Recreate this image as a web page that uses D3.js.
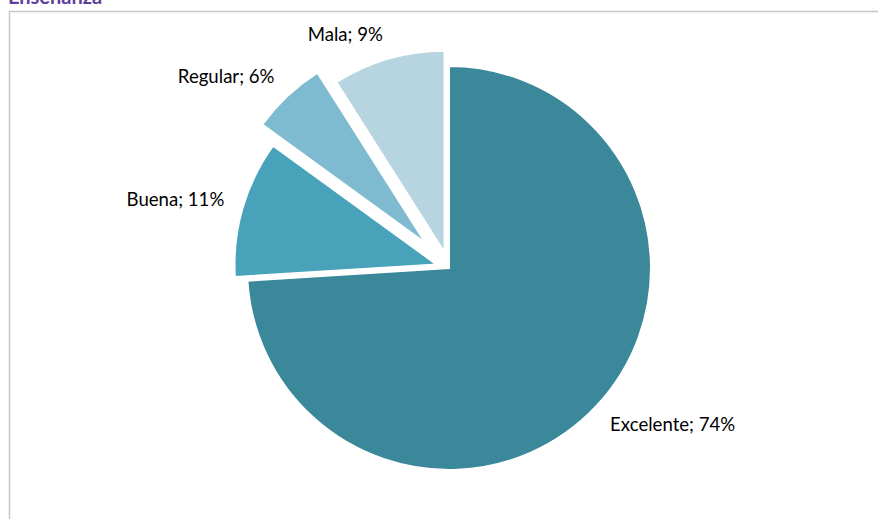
<!DOCTYPE html>
<html><head><meta charset="utf-8">
<script src="https://cdn.jsdelivr.net/npm/d3@7/dist/d3.min.js"></script>
<style>html,body{margin:0;padding:0;background:#fff;overflow:hidden}</style>
</head><body>
<svg id="c" width="878" height="519"></svg>
<script>
const categories = ["Excelente", "Buena", "Regular", "Mala"];
const values = [74, 11, 6, 9];
const labels = ["Excelente; 74%", "Buena; 11%", "Regular; 6%", "Mala; 9%"];
const colors = ["#3A889A", "#48A3BA", "#7EBBD0", "#B7D5E0"];
const explode = [0, 13, 34, 16];
const title = "Enseñanza";

const svg = d3.select("#c");
const W = 878, H = 519;
const cx = 449, cy = 268, R = 202;

// frame
svg.append("path").attr("d", `M9.5,${H} V11.5 H${W}`)
  .attr("fill", "none").attr("stroke", "#c8c8c8").attr("stroke-width", 1.5);

// title (partially clipped at top, as in the reference)
svg.append("text").attr("x", 8).attr("y", 4)
  .attr("font-family", "Lato, 'Open Sans', sans-serif").attr("font-weight", "bold")
  .attr("font-size", 20).attr("fill", "#5F3E9A").text(title);

const data = categories.map((c, i) => ({ c, v: values[i], label: labels[i], color: colors[i], ex: explode[i] }));
const pie = d3.pie().sort(null).value(d => d.v);
const arcs = pie(data);
const arc = d3.arc().innerRadius(0).outerRadius(R);

const g = svg.append("g").attr("transform", `translate(${cx},${cy})`);

arcs.forEach(a => {
  const mid = (a.startAngle + a.endAngle) / 2;
  const s = Math.sin(mid), c = Math.cos(mid);
  const ox = s * a.data.ex, oy = -c * a.data.ex;
  g.append("path").attr("d", arc(a)).attr("transform", `translate(${ox},${oy})`)
    .attr("fill", a.data.color).attr("stroke", "#fff").attr("stroke-width", 2)
    .attr("stroke-linejoin", "miter");
  const lr = R + 12;
  const px = ox + s * lr + 7 * s;
  const py = oy - c * lr;
  const base = c < 0 ? py + 17 : py + 4 - 11 * c;
  g.append("text").attr("x", px).attr("y", base)
    .attr("text-anchor", s < 0 ? "end" : "start")
    .attr("font-family", "Lato, 'Open Sans', sans-serif").attr("font-size", 18.6)
    .attr("fill", "#000").text(a.data.label);
});
</script>
</body></html>
